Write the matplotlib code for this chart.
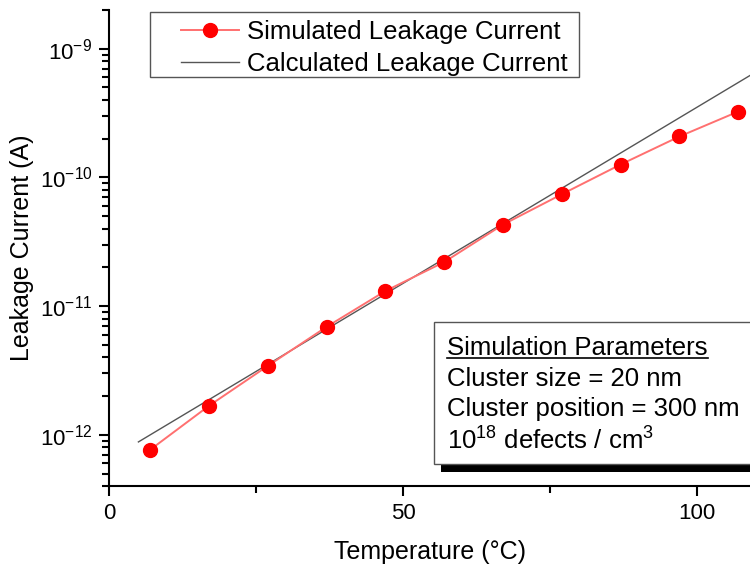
import matplotlib
matplotlib.use("Agg")
import matplotlib.pyplot as plt
from matplotlib.patches import Rectangle
from matplotlib.lines import Line2D
from matplotlib.ticker import LogLocator, LogFormatterSciNotation, MultipleLocator

plt.rcParams['font.family'] = ['Liberation Sans', 'DejaVu Sans']
plt.rcParams['mathtext.fontset'] = 'custom'
plt.rcParams['mathtext.rm'] = 'Liberation Sans'
plt.rcParams['mathtext.it'] = 'Liberation Sans:italic'

# simulated points (temperature in C, current in A)
temp_sim = [7, 17, 27, 37, 47, 57, 67, 77, 87, 97, 107]
leak_sim = [7.65e-13, 1.68e-12, 3.43e-12, 6.9e-12, 1.31e-11, 2.2e-11,
            4.3e-11, 7.4e-11, 1.26e-10, 2.08e-10, 3.25e-10]

# calculated curve (straight on log scale)
temp_calc = [5, 110]
leak_calc = [8.8e-13, 6.6e-10]

param_lines = ["Cluster size = 20 nm",
               "Cluster position = 300 nm",
               r"$\mathregular{10^{18}}$ defects / cm$\mathregular{^3}$"]

W, H = 750, 565
fig = plt.figure(figsize=(W / 100, H / 100), dpi=100)


def fx(x):
    return x / W


def fy(y):
    return 1 - y / H


ax = fig.add_axes([fx(109), fy(486), fx(750) - fx(109), fy(10) - fy(486)])

ax.plot(temp_calc, leak_calc, color='#555555', lw=1.0,
        label='Calculated Leakage Current', zorder=2)
ax.plot(temp_sim, leak_sim, color='#ff7070', lw=1.4, marker='o',
        markersize=10, markerfacecolor='#ff0000', markeredgecolor='#ff0000',
        label='Simulated Leakage Current', zorder=3)

ax.set_yscale('log')
ax.set_xlim(0, 109)
ax.set_ylim(4e-13, 2e-9)
ax.xaxis.set_major_locator(MultipleLocator(50))
ax.xaxis.set_minor_locator(MultipleLocator(25))
ax.yaxis.set_major_locator(LogLocator(base=10, numticks=10))
ax.yaxis.set_minor_locator(LogLocator(base=10, subs=range(2, 10), numticks=10))
ax.yaxis.set_major_formatter(LogFormatterSciNotation())

ax.spines['top'].set_visible(False)
ax.spines['right'].set_visible(False)
for s in ('left', 'bottom'):
    ax.spines[s].set_linewidth(1.5)
ax.tick_params(which='major', direction='out', length=7, width=1.5,
               labelsize=16, pad=5)
ax.tick_params(which='minor', direction='out', length=5, width=1.5)

ax.set_xlabel('Temperature (°C)', fontsize=18, labelpad=12)
ax.set_ylabel('Leakage Current (A)', fontsize=18, labelpad=4)

# legend: text/handles from matplotlib, frame drawn by hand
fig.patches.append(Rectangle((fx(150), fy(77)), fx(579 - 150), fy(12) - fy(77),
                             transform=fig.transFigure, facecolor='white',
                             edgecolor='#555555', lw=1.0, zorder=1))
handles, labels = ax.get_legend_handles_labels()
leg = fig.legend(handles[::-1], labels[::-1], loc='upper left',
                 bbox_to_anchor=(fx(181), fy(20)),
                 bbox_transform=fig.transFigure,
                 fontsize=18.5, frameon=False, borderaxespad=0, borderpad=0,
                 handlelength=2.25, handletextpad=0.32, labelspacing=0.33)
leg.set_zorder(4)

# parameter box with shadow, cut at the right edge
fig.patches.append(Rectangle((fx(441), fy(472)), fx(400), fy(330) - fy(472),
                             transform=fig.transFigure, facecolor='black',
                             edgecolor='none', zorder=5))
fig.patches.append(Rectangle((fx(434), fy(464)), fx(400), fy(322) - fy(464),
                             transform=fig.transFigure, facecolor='white',
                             edgecolor='#555555', lw=1.0, zorder=6))

title = fig.text(fx(447), fy(355), 'Simulation Parameters', fontsize=18.5,
                 va='baseline', zorder=7)
for line, ypos in zip(param_lines, [379, 409, 441]):
    fig.text(fx(447), fy(ypos), line, fontsize=18.5, va='center', zorder=7)

fig.canvas.draw()
bb = title.get_window_extent()
fig.lines.append(Line2D([bb.x0 / W, bb.x1 / W], [fy(358), fy(358)],
                        transform=fig.transFigure, color='black', lw=1.2,
                        zorder=8))

fig.savefig('out.png', dpi=100)
